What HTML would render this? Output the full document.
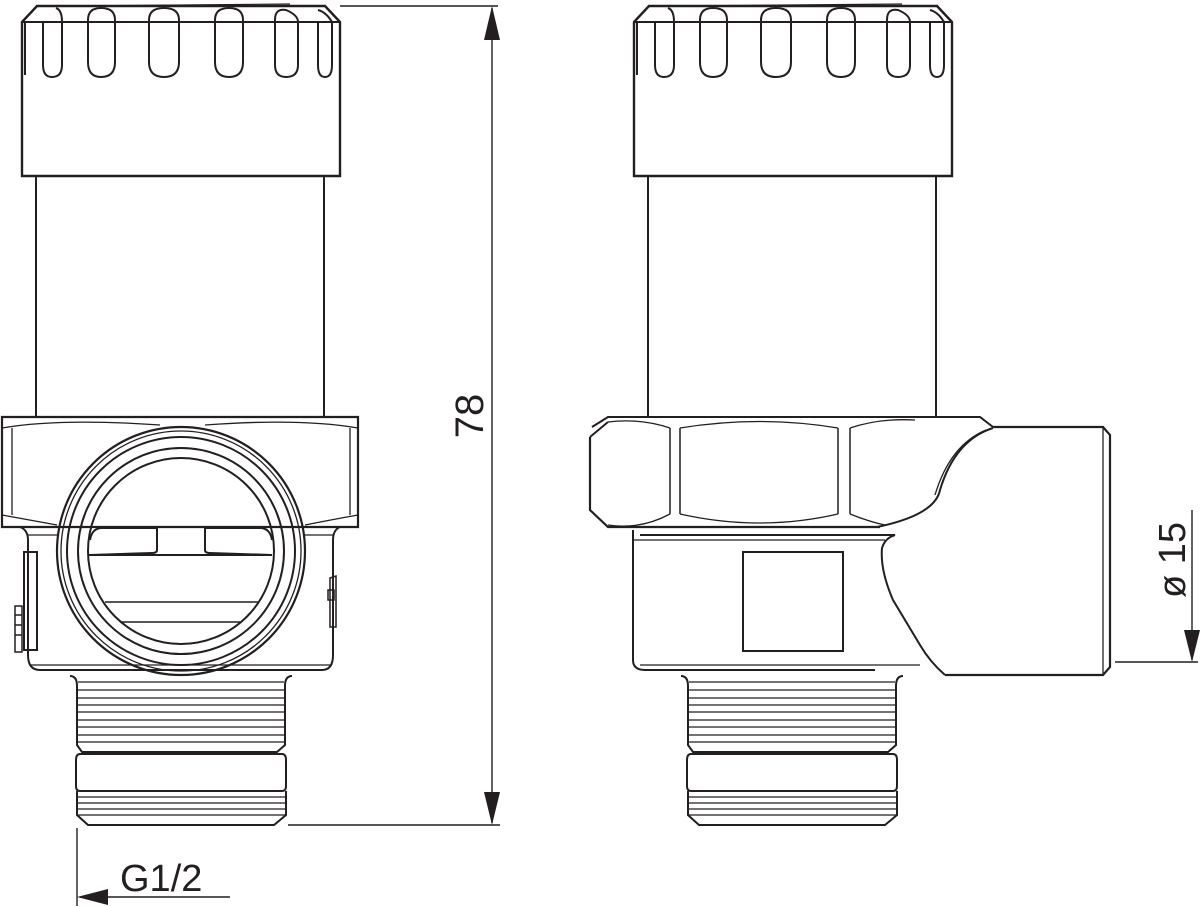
<!DOCTYPE html>
<html><head><meta charset="utf-8"><style>
html,body{margin:0;padding:0;background:#fff;}
svg{display:block;}
text{font-family:"Liberation Sans",Arial,sans-serif;fill:#231f20;}
</style></head><body>
<svg width="1200" height="907" viewBox="0 0 1200 907" xmlns="http://www.w3.org/2000/svg">
<defs>
<g id="cap" fill="none" stroke="#231f20" stroke-width="2">
  <path d="M22,176 L22,22 L37,6 L325,6 L340,22 L340,176 Z" stroke-width="2.4"/>
  <path d="M28,22 L333,22"/>
  <path d="M22,22 L28,22 M333,22 L340,22"/>
  <path d="M69,6 L290,4" stroke-width="1.2"/>
  <path d="M43,22 L43,65 Q43,77 52,77 Q62,77 62,65 L62,22 Q62,10 56,8"/>
  <path d="M88,20 Q88,8 101,8 Q115,8 115,20 L115,62 Q115,77 101,77 Q88,77 88,62 Z"/>
  <path d="M149,20 Q149,8 164,8 Q179,8 179,20 L179,62 Q179,77 164,77 Q149,77 149,62 Z"/>
  <path d="M215,20 Q215,8 229,8 Q243,8 243,20 L243,62 Q243,77 229,77 Q215,77 215,62 Z"/>
  <path d="M275,20 Q275,8 286,10 Q298,15 298,22 L298,65 Q298,77 286,77 Q275,77 275,65 Z"/>
  <path d="M318,22 L318,65 Q318,77 325,77 Q332,77 332,65 L332,22 Q326,12 318,10"/>
  <path d="M25,22 L25,75"/>
  <path d="M36,176 L36,417 M324,176 L324,417"/>
</g>
<g id="thr" fill="none" stroke="#231f20" stroke-width="2">
  <path d="M70,676 Q77,676 77,686 L77,745 L82,752 L277,752 L285,745 L285,686 Q285,676 292,676"/>
  <path d="M78,682 H284 M78,690 H284 M78,698 H284 M78,705 H284 M78,712 H284 M78,720 H284 M78,727 H284 M78,735 H284 M78,742 H284" stroke-width="1.3"/>
  <path d="M80,754 L282,754 Q286,754 286,760 L286,786 Q286,791 282,791 L80,791 Q76,791 76,786 L76,760 Q76,754 80,754 Z"/>
  <path d="M77,791 L77,815 L88,825 L274,825 L286,815 L286,791"/>
  <path d="M78,797 H285 M78,803 H285 M78,809 H285 M78,815 H285" stroke-width="1.3"/>
</g>
</defs>

<!-- LEFT VIEW -->
<use href="#cap"/>
<g fill="none" stroke="#231f20" stroke-width="2">
  <path d="M2,417 L358,417 L358,527 L2,527 Z" stroke-width="2.2"/>
  <path d="M12,428 L12,515 M350,428 L350,515" stroke-width="1.3"/>
  <path d="M2,428 Q60,418 160,425 M205,425 Q300,418 358,428" stroke-width="1.3"/>
  <path d="M2,515 Q30,520 57,525 M305,525 Q330,520 358,515" stroke-width="1.3"/>
  <path d="M20,527 Q28,530 28,540 L28,655 Q28,670 40,670 L322,670 Q333,670 333,655 L333,540 Q333,530 340,527" stroke-width="2"/>
  <path d="M28,535 L57,535 M305,535 L333,535" stroke-width="1.3"/>
  <path d="M30,665 L330,665" stroke-width="1.3"/>
  <circle cx="181" cy="551" r="124" stroke-width="2.2"/>
  <circle cx="181" cy="551" r="120" stroke-width="1.3"/>
  <circle cx="181" cy="551" r="114" stroke-width="2"/>
  <circle cx="181" cy="551" r="103" stroke-width="2"/>
  <circle cx="181" cy="551" r="93" stroke-width="2"/>
  <path d="M88,555 L272,555" stroke-width="2"/>
  <path d="M90,540 Q92,528 102,528 L157,528 L157,550 Q157,553 152,553 L90,555" stroke-width="2"/>
  <path d="M272,540 Q270,528 260,528 L205,528 L205,550 Q205,553 210,553 L272,555" stroke-width="2"/>
  <path d="M105,602 L258,602 M120,622 L240,622" stroke-width="1.5"/>
  <rect x="24" y="552" width="13" height="98" stroke-width="2"/>
  <path d="M15,606 L15,652 L22,652 L22,606 Z M15,615 H22 M15,625 H22 M15,635 H22" stroke-width="1.5"/>
  <path d="M330,578 L336,576 L336,627 L330,627 Z M328,590 H334 V600 H328 Z" stroke-width="1.5"/>
</g>
<use href="#thr"/>

<!-- RIGHT VIEW -->
<use href="#cap" transform="translate(612,0)"/>
<g fill="none" stroke="#231f20" stroke-width="2">
  <path d="M592,427 L608,417 L980,417 L993,427" stroke-width="2"/>
  <path d="M590,437 L590,510 L608,527 L880,527" stroke-width="2.2"/>
  <path d="M590,437 L608,422"/>
  <path d="M670,428 L670,514 M680,428 L680,514 M838,428 L838,514 M850,428 L850,514" stroke-width="1.5"/>
  <path d="M608,422 Q640,418 670,428 M680,428 Q760,415 838,428 M850,428 Q880,418 915,420" stroke-width="1.3"/>
  <path d="M608,525 Q640,530 670,514 M680,514 Q760,532 838,514 M850,514 Q870,522 885,525" stroke-width="1.3"/>
  <path d="M993,427 L1103,427 L1110,435 L1110,667 L1103,675 L945,675" stroke-width="2.2"/>
  <path d="M1103,427 L1103,675" stroke-width="1.3"/>
  <path d="M993,428 Q955,440 940,490 Q935,515 877,527" stroke-width="2"/>
  <path d="M986,430 Q950,445 935,495" stroke-width="1.3"/>
  <path d="M633,530 L633,660 Q633,670 645,670 L875,670"/>
  <path d="M640,535 L895,535 Q885,538 882,548 Q880,570 893,600 L920,645 Q930,662 945,675"/>
  <path d="M633,540 L885,540" stroke-width="1.3"/>
  <path d="M640,665 L920,665" stroke-width="1.3"/>
  <rect x="743" y="552" width="100" height="99" stroke-width="2"/>
</g>
<use href="#thr" transform="translate(611,0)"/>

<!-- DIMENSIONS -->
<g stroke="#231f20" stroke-width="1.4" fill="none">
  <path d="M340,6 L498,6 M288,825 L500,825"/>
  <path d="M492,8 L492,823"/>
  <path d="M77,828 L77,906"/>
  <path d="M80,897 L230,897"/>
  <path d="M1115,662 L1198,662"/>
  <path d="M1192,510 L1192,660"/>
</g>
<g fill="#231f20">
  <path d="M492,6 L484,40 L500,40 Z"/>
  <path d="M492,825 L484,792 L500,792 Z"/>
  <path d="M77,897 L108,889 L108,905 Z"/>
  <path d="M1192,662 L1184,630 L1200,630 Z"/>
</g>
<text x="0" y="0" font-size="40" transform="translate(483,416) rotate(-90)" text-anchor="middle">78</text>
<text x="120" y="891" font-size="38">G1/2</text>
<text x="0" y="0" font-size="38" transform="translate(1185,560) rotate(-90)" text-anchor="middle">ø 15</text>
</svg>
</body></html>
